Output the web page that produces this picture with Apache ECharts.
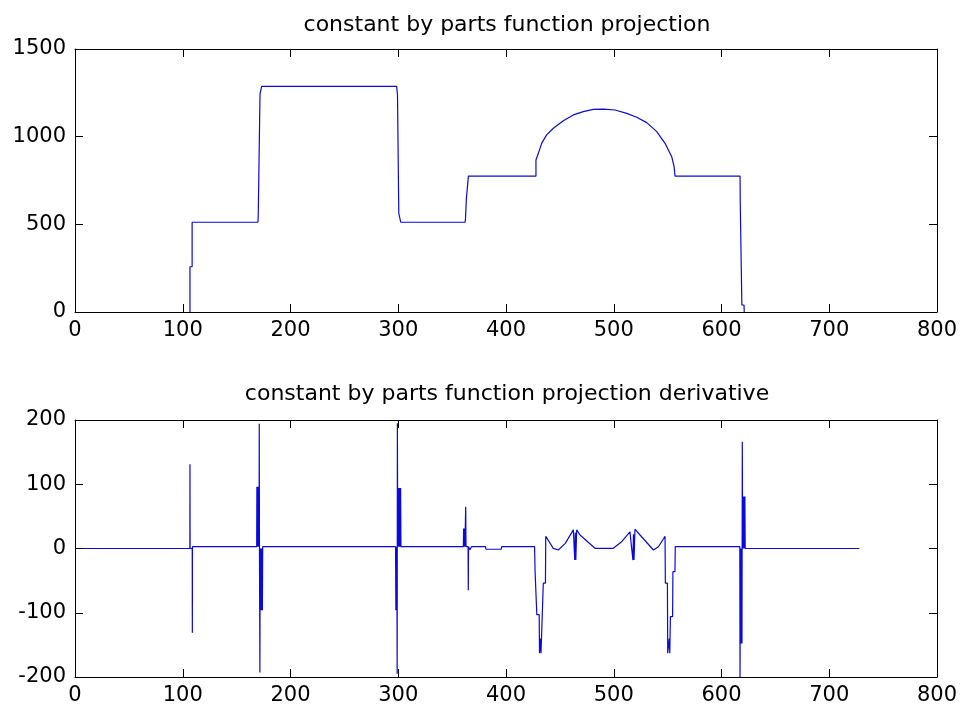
<!DOCTYPE html>
<html>
<head>
<meta charset="utf-8">
<script src="https://cdn.jsdelivr.net/npm/echarts@6/dist/echarts.min.js"></script>
<style>html,body{margin:0;padding:0;background:#fff}#c{width:962px;height:713px}</style>
</head>
<body>
<div id="c"></div>
<script>
// ---- data ----
var titles = ['constant by parts function projection', 'constant by parts function projection derivative'];
var xTicks = [0, 100, 200, 300, 400, 500, 600, 700, 800];
var projTicks = [0, 500, 1000, 1500];
var derivTicks = [-200, -100, 0, 100, 200];

var projX = [106.7, 106.7, 108.7, 108.7, 169.8, 170.1, 171.5, 171.7, 172.8, 173.2, 298.5, 299.3, 300.2, 300.5, 301.8, 302.3,
  362.0, 362.4, 363.0, 363.2, 364.8, 365.1, 427.8, 427.8, 430, 433.1, 437.7, 443.9, 453.2, 462.5, 471.7, 481, 490.3,
  501.2, 512, 521.3, 530.6, 539.9, 547.6, 553.8, 556, 556.9, 617.2, 617.4, 618.7, 618.9, 620.9, 621.1];
var projY = [0, 258, 258, 512, 512, 563, 563, 1242, 1242, 1287, 1287, 1238, 1238, 563, 563, 512,
  512, 530, 530, 645, 645, 775, 775, 867, 905, 962, 1010, 1048, 1091, 1124, 1143, 1156, 1157,
  1152, 1133, 1111, 1080, 1029, 962, 886, 829, 775, 775, 620, 620, 40, 40, 0];

var derivX = [0, 106.6, 106.7, 106.8, 108.8, 108.9, 109.0, 168.6,
  168.8, 169.0, 169.3, 169.6, 169.9, 170.2, 170.5, 170.8, 171.0, 171.2, 171.6, 171.8, 172.1, 172.4, 172.7, 173.0, 173.3, 173.6, 173.9, 174.2,
  297.5, 297.8, 298.1, 298.4, 298.7, 299.0, 299.2, 299.5, 299.8, 300.1, 300.4, 300.7, 301.0, 301.3, 301.6, 301.9, 302.2, 302.5,
  360.4, 360.7, 361.0, 361.4, 361.8, 362.2, 362.6, 362.9, 364.8, 365.0, 365.2, 366, 366.5, 367.5, 368, 381, 381.4, 395.5, 396,
  426.5, 427, 428.4, 428.6, 430.8, 431.1, 432, 432.5, 434.3, 434.6, 436.6, 436.9, 443.9, 448.5, 455, 462.5,
  463.8, 464.3, 464.8, 465.6, 468.7, 482.6, 499.6, 507, 515, 517.8, 518.3, 518.8, 519.7, 524.4, 536.8, 541.5, 547.6,
  547.9, 549.8, 550.1, 551.5, 552, 552.4, 552.6, 554.6, 554.9, 556.8, 557.1, 617.0,
  617.2, 617.5, 617.8, 618.1, 618.4, 618.7, 619.0, 619.3, 619.6, 619.9, 620.2, 620.5, 620.8, 621.1, 621.4, 621.7, 622.0, 728];
var derivY = [0, 0, 131, 0, 0, -131, 2.8, 2.8,
  96, 2.8, 96, 2.8, 96, 2.8, 96, 2.8, 194, 2.8, -193, 0, -96, 0, -96, 0, -96, 0, -96, 2.8,
  2.8, -96, 2.8, -96, 2.8, -195, 195, 2.8, 94, 2.8, 94, 2.8, 94, 2.8, 94, 2.8, 94, 2.8,
  2.8, 31, 2.8, 31, 2.8, 31, 65, 2.8, 2.8, -65, 2.8, 2.8, -2, -2, 2.8, 2.8, -1.2, -1.2, 2.8,
  2.8, -36, -36, -103, -103, -163, -140, -163, -163, -54, -54, 19, 0.3, -2.3, 8, 29,
  -18, 25, -18, 29, 21, 0.3, 0.3, 10, 26, -18, 22, -18, 30, 21, -2.3, 2.8, 19,
  -54, -54, -163, -140, -163, -163, -106, -106, -36, -36, 2.8, 2.8,
  -215, 0, -148, 0, -148, 0, -148, 166, 0, 81, 0, 81, 0, 81, 0, 81, 0, 0];

function pairs(xs, ys) { var out = []; for (var i = 0; i < xs.length; i++) out.push([xs[i], ys[i]]); return out; }

var FONT = 'DejaVu Sans';
var lineColor = '#0a0ae0';
var axisLineStyle = { color: '#000', width: 1 };
function plain(v) { return String(v); }

function xAx(grid, pos, labels) {
  return {
    type: 'value', gridIndex: grid, position: pos, min: xTicks[0], max: xTicks[xTicks.length - 1], interval: 100,
    z: 10,
    axisLine: { show: true, onZero: false, lineStyle: axisLineStyle },
    axisTick: { show: true, inside: true, length: 8, lineStyle: axisLineStyle },
    axisLabel: { show: labels, color: '#000', fontFamily: FONT, fontSize: 21, margin: 8, formatter: plain },
    splitLine: { show: false }
  };
}
function yAx(grid, pos, labels, ticks) {
  return {
    type: 'value', gridIndex: grid, position: pos, min: ticks[0], max: ticks[ticks.length - 1], interval: ticks[1] - ticks[0],
    z: 10,
    axisLine: { show: true, onZero: false, lineStyle: axisLineStyle },
    axisTick: { show: true, inside: true, length: 8, lineStyle: axisLineStyle },
    axisLabel: { show: labels, color: '#000', fontFamily: FONT, fontSize: 21, margin: 9, formatter: plain },
    splitLine: { show: false }
  };
}

var chart = echarts.init(document.getElementById('c'), null, { renderer: 'canvas' });
chart.setOption({
  animation: false,
  backgroundColor: '#fff',
  title: [
    { text: titles[0], left: 502, top: 9, textAlign: 'center', textStyle: { fontFamily: FONT, fontSize: 22, fontWeight: 'normal', color: '#000' } },
    { text: titles[1], left: 502, top: 378, textAlign: 'center', textStyle: { fontFamily: FONT, fontSize: 22, fontWeight: 'normal', color: '#000' } }
  ],
  grid: [
    { left: 75, top: 49, width: 862, height: 263 },
    { left: 75, top: 420, width: 862, height: 257 }
  ],
  xAxis: [xAx(0, 'bottom', true), xAx(0, 'top', false), xAx(1, 'bottom', true), xAx(1, 'top', false)],
  yAxis: [yAx(0, 'left', true, projTicks), yAx(0, 'right', false, projTicks), yAx(1, 'left', true, derivTicks), yAx(1, 'right', false, derivTicks)],
  series: [
    { type: 'line', xAxisIndex: 0, yAxisIndex: 0, data: pairs(projX, projY), showSymbol: false, symbol: 'none',
      lineStyle: { color: lineColor, width: 1.2 }, clip: true },
    { type: 'line', xAxisIndex: 2, yAxisIndex: 2, data: pairs(derivX, derivY), showSymbol: false, symbol: 'none',
      lineStyle: { color: lineColor, width: 1.2 }, clip: true }
  ]
});
</script>
</body>
</html>
